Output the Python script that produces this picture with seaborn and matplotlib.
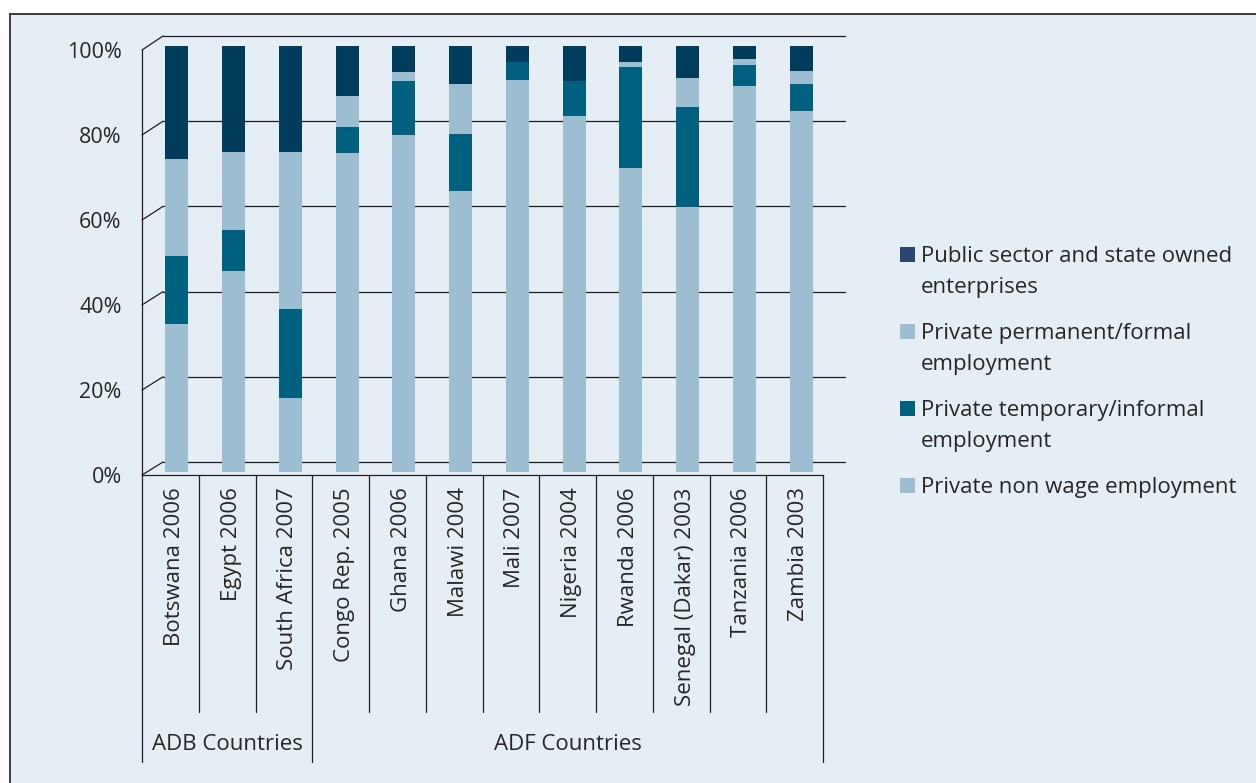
import matplotlib
matplotlib.use("Agg")
import matplotlib.pyplot as plt
import matplotlib.transforms as mtransforms
import seaborn as sns
import numpy as np
from matplotlib.patches import Rectangle, ConnectionPatch

# data (% of employment)
countries = ["Botswana 2006", "Egypt 2006", "South Africa 2007", "Congo Rep. 2005",
             "Ghana 2006", "Malawi 2004", "Mali 2007", "Nigeria 2004", "Rwanda 2006",
             "Senegal (Dakar) 2003", "Tanzania 2006", "Zambia 2003"]
groups = ["ADB Countries", "ADF Countries"]
group_sizes = [3, 9]

non_wage = [34.7, 47.2, 17.4, 74.8, 79.1, 65.9, 92.0, 83.6, 71.4, 62.2, 90.6, 84.7]
temporary = [16.0, 9.6, 20.9, 6.1, 12.7, 13.4, 4.2, 8.2, 23.7, 23.5, 4.9, 6.3]
permanent = [22.8, 18.3, 36.8, 7.3, 2.1, 11.7, 0.0, 0.0, 1.2, 6.8, 1.4, 3.1]
public = [26.5, 24.9, 24.9, 11.8, 6.1, 9.0, 3.8, 8.2, 3.7, 7.5, 3.1, 5.9]

series_names = ["Private non wage employment", "Private temporary/informal\nemployment",
                "Private permanent/formal\nemployment", "Public sector and state owned\nenterprises"]
bar_colors = ["#9dbdd0", "#006080", "#9dbdd0", "#003d5c"]
legend_colors = ["#9dbdd0", "#006080", "#9dbdd0", "#2c4570"]

yticks = [0, 20, 40, 60, 80, 100]

W, H = 1256, 783
bg = "#e6eef5"
line_col = "#1e1e1e"
txt_col = "#262626"

sns.set_style("white")
plt.rcParams["font.family"] = ["Open Sans", "DejaVu Sans"]


def px_rect(x0, y0, x1, y1):
    # pixel box (top-left origin) -> figure fraction rect
    return [x0 / W, 1 - y1 / H, (x1 - x0) / W, (y1 - y0) / H]


fig = plt.figure(figsize=(W / 100, H / 100), dpi=100)
fig.patch.set_facecolor("white")
fig.add_artist(Rectangle((10 / W, -0.05), 1.1, 1 - 14 / H + 0.05, transform=fig.transFigure,
                         facecolor=bg, edgecolor="#3a3a3a", lw=1.4, zorder=-10))

# back wall (gridlines)
ax_back = fig.add_axes(px_rect(163, 36, 845, 462))
ax_bar = fig.add_axes(px_rect(148.6, 46, 829.5, 472))
ax_front = fig.add_axes(px_rect(142, 50, 823, 475))

for a in (ax_back, ax_bar, ax_front):
    a.set_facecolor("none")
    a.set_xlim(-0.5, 11.5)
    a.set_ylim(0, 100)
    for s in a.spines.values():
        s.set_visible(False)

ax_back.set_xticks([])
ax_back.set_yticks([])
for v in yticks:
    ax_back.axhline(v, color=line_col, lw=0.9, clip_on=False)

# stacked bars: draw cumulative totals from the top layer down
layers = np.array([non_wage, temporary, permanent, public])
cum = np.cumsum(layers, axis=0)
for i in range(len(layers) - 1, -1, -1):
    sns.barplot(x=countries, y=cum[i], color=bar_colors[i], width=0.406, saturation=1,
                linewidth=0, errorbar=None, ax=ax_bar)
ax_bar.set_xlim(-0.5, 11.5)
ax_bar.set_ylim(0, 100)
ax_bar.axis("off")

# front axis
ax_front.spines["left"].set_visible(True)
ax_front.spines["bottom"].set_visible(True)
for s in ("left", "bottom"):
    ax_front.spines[s].set_color(line_col)
    ax_front.spines[s].set_linewidth(0.9)
ax_front.set_yticks(yticks)
ax_front.set_yticklabels([f"{v}%" for v in yticks], fontsize=15.5, color=txt_col)
ax_front.tick_params(axis="y", direction="out", length=3.6, width=0.9, color=line_col, pad=11)
ax_front.set_xticks(range(len(countries)))
ax_front.set_xticklabels(countries, rotation=90, fontsize=16, color=txt_col)
ax_front.tick_params(axis="x", length=0, pad=9)
shift = mtransforms.ScaledTranslation(4 / 100, 0, fig.dpi_scale_trans)
for lbl in ax_front.get_xticklabels():
    lbl.set_transform(lbl.get_transform() + shift)

# diagonals joining front ticks to the back wall
for v in yticks:
    fig.add_artist(ConnectionPatch(xyA=(-0.5, v), coordsA=ax_front.transData,
                                   xyB=(-0.5, v), coordsB=ax_back.transData,
                                   color=line_col, lw=0.9))

# category separators and group labels
xt = ax_front.get_xaxis_transform()
bounds = np.cumsum([0] + group_sizes) - 0.5
for b in np.arange(-0.5, len(countries)):
    if b in bounds:
        continue
    ax_front.plot([b, b], [0, -0.5576], transform=xt, color=line_col, lw=0.9, clip_on=False)
for b in bounds:
    ax_front.plot([b, b], [0, -0.675], transform=xt, color=line_col, lw=0.9, clip_on=False)
for g, lo, hi in zip(groups, bounds[:-1], bounds[1:]):
    ax_front.text((lo + hi) / 2, -0.635, g, transform=xt, ha="center", va="center",
                  fontsize=16, color=txt_col)

# legend, top entry first
for k, i in enumerate(range(len(series_names) - 1, -1, -1)):
    base = 261.7 + 77 * k
    fig.add_artist(Rectangle((900 / W, 1 - (base + 0.5) / H), 15 / W, 15 / H,
                             transform=fig.transFigure, facecolor=legend_colors[i], lw=0))
    for j, line in enumerate(series_names[i].split("\n")):
        fig.text(921 / W, 1 - (base + 31 * j) / H, line, ha="left", va="baseline",
                 fontsize=16, color=txt_col)

fig.savefig("out.png", dpi=100, facecolor=fig.get_facecolor())
